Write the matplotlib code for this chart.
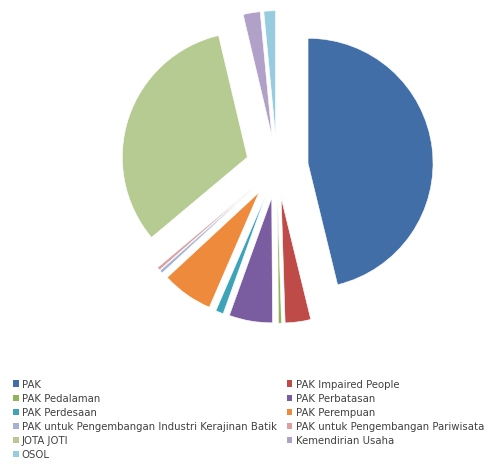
import matplotlib
import matplotlib.pyplot as plt
from matplotlib.patches import Patch

matplotlib.use("Agg")

labels = [
    "PAK",
    "PAK Impaired People",
    "PAK Pedalaman",
    "PAK Perbatasan",
    "PAK Perdesaan",
    "PAK Perempuan",
    "PAK untuk Pengembangan Industri Kerajinan Batik",
    "PAK untuk Pengembangan Pariwisata",
    "JOTA JOTI",
    "Kemendirian Usaha",
    "OSOL",
]
shares = [46.2, 3.3, 0.4, 5.6, 1.0, 6.6, 0.4, 0.4, 32.4, 2.2, 1.5]
colors = [
    "#426EA8", "#BE4B48", "#93B35A", "#7A5CA0", "#3FA3B8", "#EE8A3C",
    "#A4B3D4", "#D9A1A0", "#B6CB92", "#B1A0C8", "#96CCDD",
]

W, H = 491, 464
fig = plt.figure(figsize=(W / 100, H / 100), dpi=100)

# pie centre ~ (277, 168) px, radius ~125 px
cx, cy, r, half = 277, 168, 125, 160
ax = fig.add_axes([(cx - half) / W, (H - cy - half) / H, 2 * half / W, 2 * half / H])
ax.pie(
    shares,
    colors=colors,
    startangle=90,
    counterclock=False,
    explode=[0.25] * len(shares),
    radius=1,
    wedgeprops={"edgecolor": "white", "linewidth": 0.4},
)
lim = half / r
ax.set_xlim(-lim, lim)
ax.set_ylim(-lim, lim)
ax.set_aspect("equal")
ax.axis("off")

# legend is laid out row-wise in the original, matplotlib fills column-wise
order = list(range(0, len(labels), 2)) + list(range(1, len(labels), 2))
handles = [Patch(facecolor=colors[i], edgecolor="none") for i in order]
fig.legend(
    handles,
    [labels[i] for i in order],
    loc="upper left",
    bbox_to_anchor=(4 / W, 1 - 371 / H),
    ncol=2,
    frameon=False,
    fontsize=7.3,
    handlelength=0.55,
    handleheight=0.55,
    handletextpad=0.3,
    columnspacing=1.0,
    labelspacing=0.4,
    labelcolor="#404040",
)

fig.savefig("out.png", dpi=100)
